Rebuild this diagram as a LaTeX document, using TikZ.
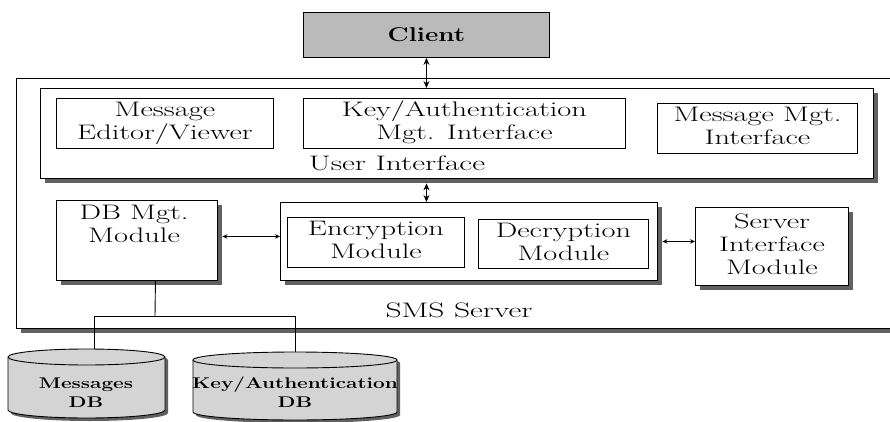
\documentclass[tikz,border=0pt]{standalone}
\usepackage{fontspec}
\usepackage{graphicx}
\usetikzlibrary{arrows.meta,shadows}

% wide-set lettering: one line, and a centred stack of lines
\newcommand\widefac{1.45}
\newcommand\sx[1]{\scalebox{1.5}[1]{#1}}
\newcommand\sxx[1]{\scalebox{\widefac}[1]{\begin{tabular}{@{}c@{}}#1\end{tabular}}}
\newcommand\sbx[1]{\scalebox{1.34}[1]{\begin{tabular}{@{}c@{}}#1\end{tabular}}}

\tikzset{
  every node/.style={font=\fontsize{21}{23}\selectfont},
  box/.style={draw=black, line width=0.9pt, fill=white, inner sep=0pt,
    anchor=north west},
  shadowed/.style={box, drop shadow={shadow xshift=4.5pt, shadow yshift=-4.5pt,
    fill=black!62, opacity=1}},
  lbl/.style={inner sep=0pt},
  dblbl/.style={lbl, anchor=north, font=\bfseries\fontsize{15.5}{19}\selectfont},
  link/.style={line width=0.9pt},
  biarrow/.style={link, {Stealth[length=7pt,width=6pt]}-{Stealth[length=7pt,width=6pt]}},
  smallbiarrow/.style={link, {Stealth[length=5pt,width=4.5pt]}-{Stealth[length=5pt,width=4.5pt]}},
  cylfill/.style={fill=black!17, draw=black, line width=0.9pt},
  cylshadow/.style={fill=black!62},
}

\begin{document}
\begin{tikzpicture}[x=1pt, y=-1pt]
\useasboundingbox (0,0) rectangle (890,422);
\clip (0,0) rectangle (890,422);
\fill[white] (0,0) rectangle (890,422);

% client
\node[box, fill=black!27, minimum width=246pt, minimum height=45pt,
      font=\bfseries\fontsize{20}{23}\selectfont] (client) at (303,12) {\scalebox{1.3}[1]{Client}};

% SMS server container
\node[shadowed, minimum width=900pt, minimum height=250pt] (sms) at (16,78) {};
\node[lbl, anchor=base] (smslbl) at (459,317) {\sx{SMS Server}};

% user interface layer
\node[shadowed, minimum width=833pt, minimum height=90pt] (ui) at (40,88) {};
\node[box, minimum width=217pt, minimum height=50pt] (msged) at (56,98) {\sxx{Message\\Editor/Viewer}};
\node[box, minimum width=322pt, minimum height=50pt] (keyif) at (303,98) {\sxx{Key/Authentication\\Mgt. Interface}};
\node[box, minimum width=200pt, minimum height=50pt] (msgmgt) at (657,103) {\sxx{Message Mgt.\\Interface}};
\node[lbl, anchor=base] (uilbl) at (397,170) {\sx{User Interface}};

% server modules
\node[shadowed, minimum width=161pt, minimum height=80pt] (dbm) at (56,200) {};
\node[lbl, anchor=north] (dbmlbl) at (134,203) {\sxx{DB Mgt.\\Module}};
\node[shadowed, minimum width=377pt, minimum height=78pt] (crypto) at (280,202) {};
\node[box, minimum width=177pt, minimum height=50pt] (enc) at (287,217) {\sxx{Encryption\\Module}};
\node[box, minimum width=170pt, minimum height=49pt] (dec) at (478,219) {\sxx{Decryption\\Module}};
\node[shadowed, minimum width=153pt, minimum height=78pt] (server) at (695,207) {\sxx{Server\\Interface\\Module}};

% databases
\fill[cylshadow] (11,360) -- (11,413) arc[start angle=180, end angle=360, x radius=78.5pt, y radius=8pt]
  -- (168,360) arc[start angle=0, end angle=180, x radius=78.5pt, y radius=8pt] -- cycle;
\path[cylfill] (8,357) -- (8,410) arc[start angle=180, end angle=360, x radius=78.5pt, y radius=8pt]
  -- (165,357) arc[start angle=0, end angle=180, x radius=78.5pt, y radius=8pt] -- cycle;
\draw[line width=0.9pt] (8,357) arc[start angle=180, end angle=360, x radius=78.5pt, y radius=8pt];
\node[dblbl] (msgdb) at (86,375) {\sbx{Messages\\DB}};

\fill[cylshadow] (196,363) -- (196,415) arc[start angle=180, end angle=360, x radius=102pt, y radius=8pt]
  -- (400,363) arc[start angle=0, end angle=180, x radius=102pt, y radius=8pt] -- cycle;
\path[cylfill] (193,360) -- (193,412) arc[start angle=180, end angle=360, x radius=102pt, y radius=8pt]
  -- (397,360) arc[start angle=0, end angle=180, x radius=102pt, y radius=8pt] -- cycle;
\draw[line width=0.9pt] (193,360) arc[start angle=180, end angle=360, x radius=102pt, y radius=8pt];
\node[dblbl] (keydb) at (295,375) {\sbx{Key/Authentication\\DB}};

% connectors
\coordinate (uibot) at ([yshift=-4.5pt]ui.south);
\draw[biarrow] (client.south) -- (client.south |- ui.north);
\draw[biarrow] (uibot -| client.south) -- (crypto.north -| client.south);

\coordinate (dbmout) at ([xshift=4.5pt,yshift=4pt]dbm.east);
\draw[smallbiarrow] (dbmout) -- (crypto.west |- dbmout);
\coordinate (cryptoout) at ([xshift=4.5pt]crypto.east);
\draw[smallbiarrow] (cryptoout) -- (server.west |- cryptoout);

\coordinate (dbdown) at ([xshift=18.5pt]dbm.south);
\coordinate (junction) at (155,316);
\coordinate (msgtop) at (94,349);
\coordinate (keytop) at (295,352);
\draw[link] (dbdown) -- (junction);
\draw[link] (msgtop) -- (msgtop |- junction) -- (keytop |- junction) -- (keytop);
\end{tikzpicture}
\end{document}
